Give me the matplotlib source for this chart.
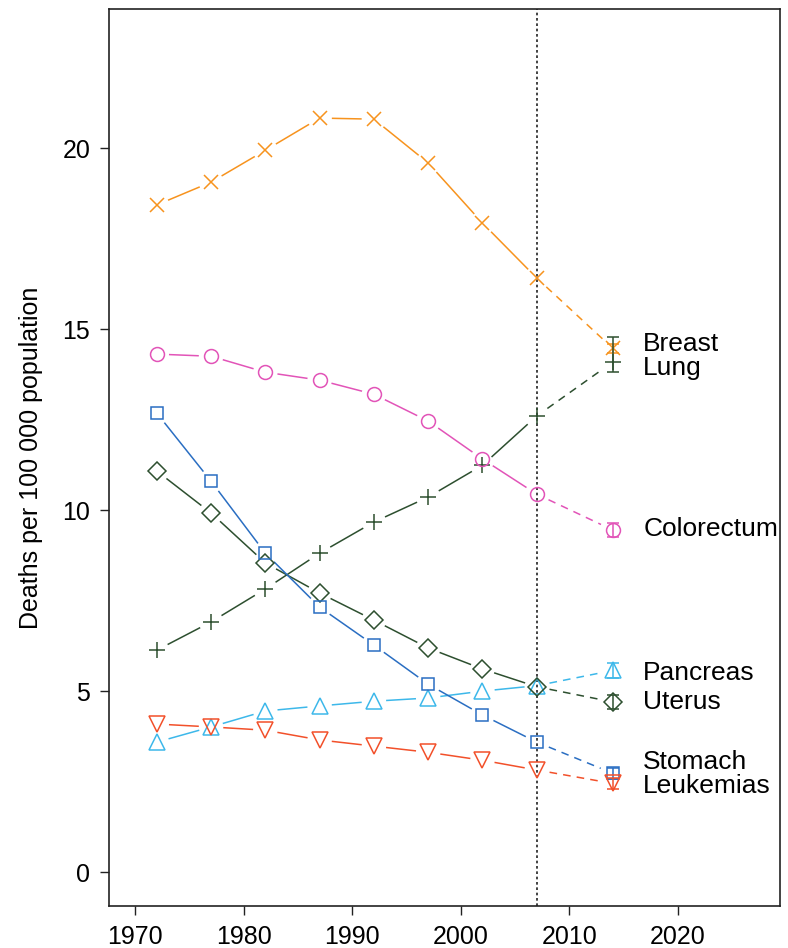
import matplotlib.pyplot as plt
import numpy as np

plt.rcParams['font.family'] = ['Liberation Sans', 'DejaVu Sans']

# observed mortality rates, 5-year periods
years = [1972, 1977, 1982, 1987, 1992, 1997, 2002, 2007]
pred_year = 2014

breast = [18.43, 19.06, 19.94, 20.83, 20.80, 19.59, 17.93, 16.41]
colorectum = [14.31, 14.25, 13.81, 13.59, 13.20, 12.46, 11.41, 10.44]
lung = [6.13, 6.91, 7.82, 8.81, 9.67, 10.36, 11.24, 12.60]
stomach = [12.68, 10.80, 8.81, 7.32, 6.27, 5.19, 4.34, 3.59]
uterus = [11.08, 9.92, 8.54, 7.71, 6.96, 6.19, 5.61, 5.12]
pancreas = [3.59, 4.01, 4.45, 4.59, 4.72, 4.81, 5.00, 5.15]
leukemias = [4.09, 4.01, 3.92, 3.65, 3.48, 3.31, 3.09, 2.82]

# predicted rates for 2014 with prediction intervals
names = ['Breast', 'Lung', 'Colorectum', 'Pancreas', 'Uterus', 'Stomach', 'Leukemias']
pred = [14.47, 14.09, 9.45, 5.57, 4.70, 2.73, 2.45]
pred_lo = [14.35, 13.81, 9.25, 5.37, 4.50, 2.58, 2.30]
pred_hi = [14.60, 14.78, 9.65, 5.77, 4.90, 2.88, 2.60]

observed = [breast, lung, colorectum, pancreas, uterus, stomach, leukemias]
colors = ['#f7931e', '#2d4f2f', '#e254b8', '#3db8ea', '#2d4f2f', '#2a6ec2', '#f2502a']
markers = ['x', '+', 'o', '^', 'D', 's', 'v']
msizes = [9.5, 12, 10, 11, 9.5, 9, 11]
label_offsets = [3, -4, 1, -2, 0, 8, -2]

fig = plt.figure(figsize=(7.88, 9.48), dpi=100)
ax = fig.add_axes([0.1383, 0.0438, 0.8515, 0.9462])
ax.set_xlim(1967.6, 2029.4)
ax.set_ylim(-0.95, 23.83)


def gapped(x, y, gap=13):
    """segments between points, cut back by `gap` pixels at both ends"""
    pts = ax.transData.transform(np.column_stack([x, y]))
    inv = ax.transData.inverted()
    segs = []
    for p0, p1 in zip(pts[:-1], pts[1:]):
        d = p1 - p0
        n = np.hypot(*d)
        if n <= 2 * gap:
            continue
        u = d / n
        segs.append(inv.transform(np.array([p0 + u * gap, p1 - u * gap])))
    return segs


ax.axvline(2007, color='#222222', lw=1.2, ls=(0, (1.6, 1.6)), zorder=1)

for i, name in enumerate(names):
    c = colors[i]
    ys = observed[i]
    for s in gapped(years, ys):
        ax.plot(s[:, 0], s[:, 1], color=c, lw=1.1, zorder=2)
    for s in gapped([years[-1], pred_year], [ys[-1], pred[i]]):
        ax.plot(s[:, 0], s[:, 1], color=c, lw=1.1, ls=(0, (5, 4)), zorder=2)
    ax.plot(years + [pred_year], ys + [pred[i]], ls='none', marker=markers[i],
            ms=msizes[i], mfc='none', mec=c, mew=1.1, zorder=3)
    ax.errorbar(pred_year, pred[i],
                yerr=[[pred[i] - pred_lo[i]], [pred_hi[i] - pred[i]]],
                fmt='none', ecolor=c, elinewidth=1.1, capsize=4.5, capthick=1.1,
                zorder=3)
    ax.annotate(name, (pred_year, pred[i]), xytext=(22, label_offsets[i]),
                textcoords='offset points', ha='left', va='center', fontsize=19)

ax.set_xticks([1970, 1980, 1990, 2000, 2010, 2020])
ax.set_yticks([0, 5, 10, 15, 20])
ax.tick_params(direction='out', length=6.5, width=1.0, labelsize=18, pad=7,
               color='#222222')
for sp in ax.spines.values():
    sp.set_color('#222222')
    sp.set_linewidth(1.2)
ax.set_ylabel('Deaths per 100 000 population', fontsize=18, labelpad=14)

fig.savefig('out.png', dpi=100)
